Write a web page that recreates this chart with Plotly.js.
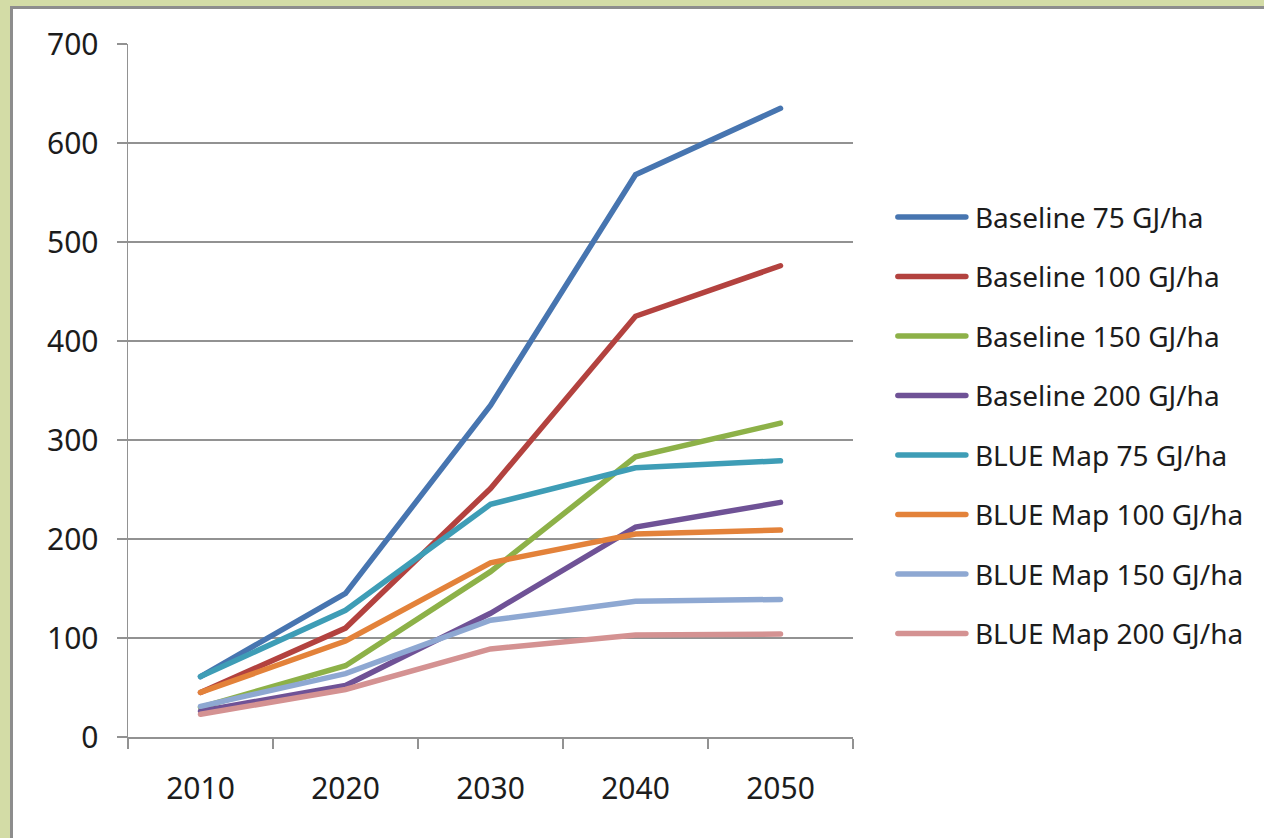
<!DOCTYPE html>
<html>
<head>
<meta charset="utf-8">
<script src="https://cdn.plot.ly/plotly-3.0.1.min.js"></script>
<style>
  html, body { margin: 0; padding: 0; }
  body { width: 1264px; height: 838px; position: relative; overflow: hidden; background: #d3dca6; }
  #sheet { position: absolute; left: 10px; top: 6px; width: 1254px; height: 832px;
           border-left: 3px solid #8d8d8d; border-top: 3px solid #8d8d8d; background: #ffffff; box-sizing: border-box; }
  #chart { position: absolute; left: 0; top: 0; width: 1264px; height: 838px; }
  #chart .js-line { stroke-linecap: round; }
  #chart .legendlines path { stroke-linecap: round; }
</style>
</head>
<body>
<div id="sheet"></div>
<div id="chart"></div>
<script>
// Years on the category axis
const years = ['2010', '2020', '2030', '2040', '2050'];

// Series values (one per year)
const baseline75  = [61, 145, 335, 568, 635];
const baseline100 = [45, 110, 251, 425, 476];
const baseline150 = [30, 72, 167, 283, 317];
const baseline200 = [26, 52, 125, 212, 237];
const blueMap75   = [61, 128, 235, 272, 279];
const blueMap100  = [45, 97, 176, 205, 209];
const blueMap150  = [31, 64, 118, 137, 139];
const blueMap200  = [23, 48, 89, 103, 104];

const seriesNames = [
  'Baseline 75 GJ/ha', 'Baseline 100 GJ/ha', 'Baseline 150 GJ/ha', 'Baseline 200 GJ/ha',
  'BLUE Map 75 GJ/ha', 'BLUE Map 100 GJ/ha', 'BLUE Map 150 GJ/ha', 'BLUE Map 200 GJ/ha'
];
const seriesValues = [baseline75, baseline100, baseline150, baseline200,
                      blueMap75, blueMap100, blueMap150, blueMap200];
const seriesColors = ['#4775b0', '#b3423f', '#8db148', '#6f5296',
                      '#3e9db6', '#e3823a', '#8ea8d2', '#d49292'];

const yTicks = [0, 100, 200, 300, 400, 500, 600, 700];

const font = "'Noto Sans', 'Open Sans', 'DejaVu Sans', sans-serif";
const gridColor = '#929292';

const traces = seriesNames.map((name, i) => ({
  type: 'scatter',
  mode: 'lines',
  name: name,
  legendgroup: 'g' + i,
  x: years,
  y: seriesValues[i],
  line: { color: seriesColors[i], width: 5.5 },
  hoverinfo: 'skip'
}));

const layout = {
  width: 1264,
  height: 838,
  margin: { l: 128, r: 411, t: 44, b: 101 },
  paper_bgcolor: 'rgba(0,0,0,0)',
  plot_bgcolor: 'rgba(0,0,0,0)',
  font: { family: font, size: 30, color: '#1c1c1c' },
  showlegend: true,
  legend: {
    x: 1.055, xanchor: 'left',
    y: 0.786, yanchor: 'top',
    bgcolor: 'rgba(0,0,0,0)',
    font: { family: font, size: 28, color: '#1c1c1c' },
    traceorder: 'grouped',
    tracegroupgap: 20.1,
    itemwidth: 72
  },
  xaxis: {
    type: 'category',
    range: [-0.5, 4.5],
    tickson: 'boundaries',
    ticks: 'outside',
    ticklen: 10,
    tickwidth: 1.5,
    tickcolor: gridColor,
    showgrid: false,
    showline: true,
    linecolor: gridColor,
    linewidth: 1.5,
    zeroline: false,
    ticklabelstandoff: 24,
    tickfont: { family: font, size: 30, color: '#1c1c1c' },
    fixedrange: true
  },
  yaxis: {
    range: [0, 700],
    tickvals: yTicks,
    ticks: 'outside',
    ticklen: 10,
    tickwidth: 1.5,
    tickcolor: gridColor,
    showgrid: true,
    gridcolor: gridColor,
    gridwidth: 1.5,
    showline: true,
    linecolor: gridColor,
    linewidth: 1.5,
    zeroline: false,
    ticklabelstandoff: 12,
    tickfont: { family: font, size: 30, color: '#1c1c1c' },
    fixedrange: true
  }
};

Plotly.newPlot('chart', traces, layout, { staticPlot: true, displayModeBar: false }).then(gd => {
  // Lengthen the legend keys so they span the item width
  gd.querySelectorAll('.legendlines path').forEach(p => p.setAttribute('d', 'M5,0h68'));
});
</script>
</body>
</html>
